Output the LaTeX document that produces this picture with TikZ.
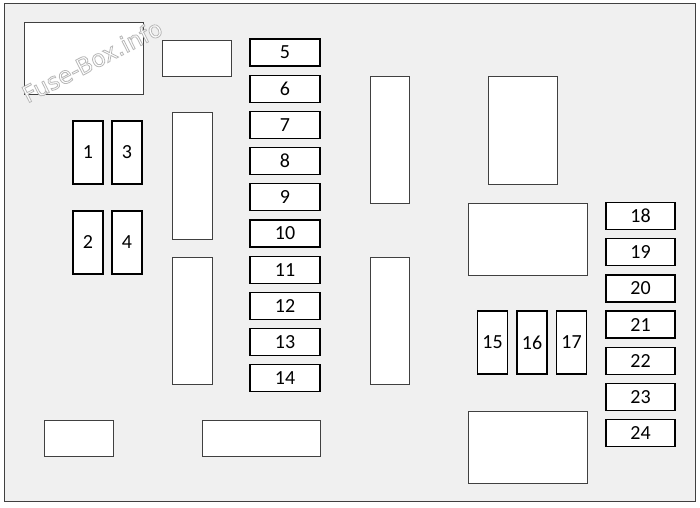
\documentclass[tikz,border=0pt]{standalone}
\usepackage{fontspec}
\setmainfont{Carlito}
\newfontfamily\markfont{DejaVu Sans}
\definecolor{boxbg}{HTML}{F0F0F0}
\definecolor{boxline}{HTML}{404040}
\newcommand{\outlinetext}[1]{\special{pdf:code q 2 Tr 0.8 w 0.72 G}#1\special{pdf:code Q}}
\tikzset{
  fuse/.style={draw=black, line width=1.3pt, fill=white, inner sep=0pt,
    font=\fontsize{20}{20}\selectfont},
  hfuse/.style={fuse, minimum width=70pt, minimum height=27pt},
  vfuse/.style={fuse, minimum width=30pt, minimum height=63pt},
  relay/.style={draw=boxline, line width=0.9pt, fill=white}
}
\begin{document}
\begin{tikzpicture}[x=1pt, y=-1pt]
  \useasboundingbox (0,0) rectangle (700,507);
  % Housing
  \draw[boxline, line width=1pt, fill=boxbg] (4,3) rectangle (695,501);
  % Relays and blank slots
  \draw[relay] (24,22) rectangle (143,94);
  \draw[relay] (162,40) rectangle (231,76);
  \draw[relay] (172,112) rectangle (212,239);
  \draw[relay] (172,257) rectangle (212,384);
  \draw[relay] (370,76) rectangle (409,203);
  \draw[relay] (370,257) rectangle (409,384);
  \draw[relay] (488,76) rectangle (557,184);
  \draw[relay] (468,203) rectangle (587,275);
  \draw[relay] (468,411) rectangle (587,483);
  \draw[relay] (44,420) rectangle (113,456);
  \draw[relay] (202,420) rectangle (320,456);
  % Watermark
  \node[rotate=27, text=white, font=\markfont\fontsize{23}{23}\selectfont] (mark) at (92,61) {\outlinetext{Fuse-Box.info}};
  % Fuses 1-4
  \node[vfuse] (f1) at (88,152.5) {1};
  \node[vfuse] (f3) at (127,152.5) {3};
  \node[vfuse] (f2) at (88,242.5) {2};
  \node[vfuse] (f4) at (127,242.5) {4};
  % Fuses 5-14
  \foreach \i in {5,...,14}
    \node[hfuse] (f\i) at (285, {52.5+36.2*(\i-5)}) {\i};
  % Fuses 15-17
  \node[vfuse] (f15) at (492.5,342.5) {15};
  \node[vfuse] (f16) at (532,342.5) {16};
  \node[vfuse] (f17) at (571.5,342.5) {17};
  % Fuses 18-24
  \foreach \i in {18,...,24}
    \node[hfuse, minimum width=69pt] (f\i) at (640.5, {216+36.2*(\i-18)}) {\i};
\end{tikzpicture}
\end{document}
